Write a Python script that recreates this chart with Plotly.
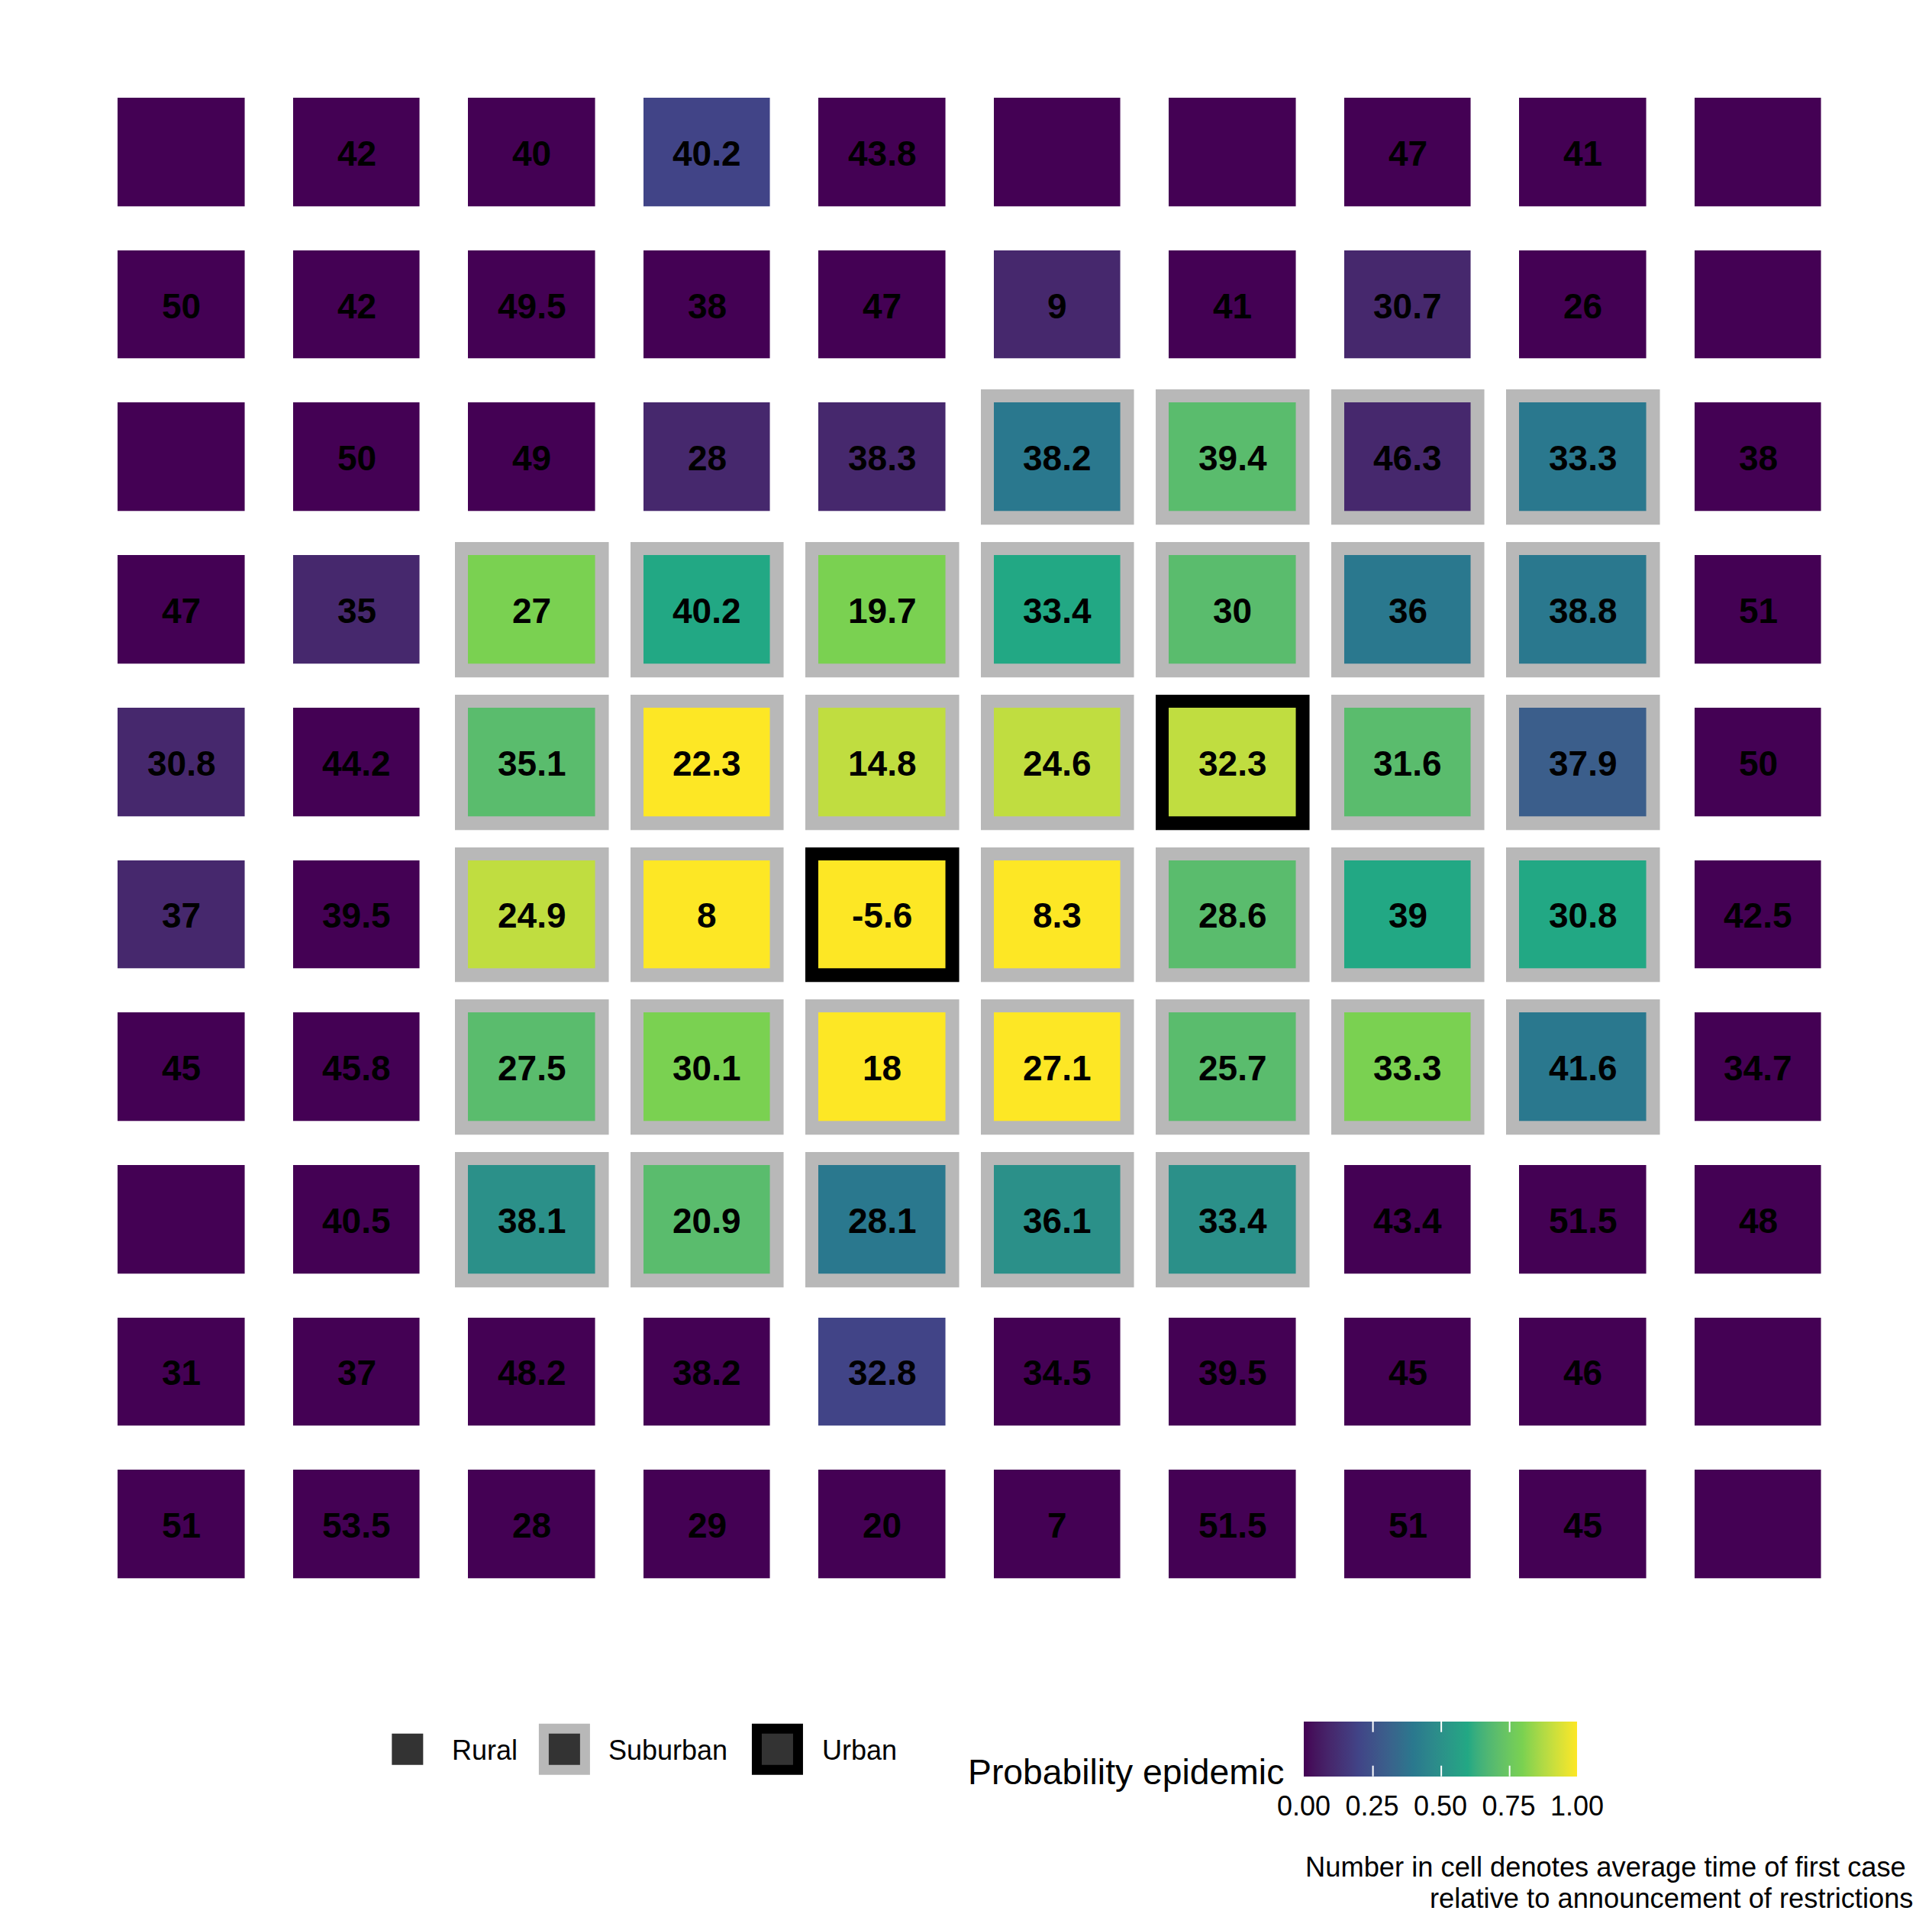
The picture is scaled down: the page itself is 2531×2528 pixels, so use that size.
import plotly.graph_objects as go
import numpy as np

W, H = 2531, 2528
FONT = "Liberation Sans, Arial, sans-serif"

# ---------------- data (rows top -> bottom, columns left -> right) ----------------
col_ids = list(range(1, 11))
row_ids = list(range(1, 11))

# average time of first case relative to announcement (None = no label)
first_case_time = [
    [None, 42, 40, 40.2, 43.8, None, None, 47, 41, None],
    [50, 42, 49.5, 38, 47, 9, 41, 30.7, 26, None],
    [None, 50, 49, 28, 38.3, 38.2, 39.4, 46.3, 33.3, 38],
    [47, 35, 27, 40.2, 19.7, 33.4, 30, 36, 38.8, 51],
    [30.8, 44.2, 35.1, 22.3, 14.8, 24.6, 32.3, 31.6, 37.9, 50],
    [37, 39.5, 24.9, 8, -5.6, 8.3, 28.6, 39, 30.8, 42.5],
    [45, 45.8, 27.5, 30.1, 18, 27.1, 25.7, 33.3, 41.6, 34.7],
    [None, 40.5, 38.1, 20.9, 28.1, 36.1, 33.4, 43.4, 51.5, 48],
    [31, 37, 48.2, 38.2, 32.8, 34.5, 39.5, 45, 46, None],
    [51, 53.5, 28, 29, 20, 7, 51.5, 51, 45, None],
]

# probability of epidemic
prob_epidemic = [
    [0, 0, 0, 0.2, 0, 0, 0, 0, 0, 0],
    [0, 0, 0, 0, 0, 0.1, 0, 0.1, 0, 0],
    [0, 0, 0, 0.1, 0.1, 0.4, 0.7, 0.1, 0.4, 0],
    [0, 0.1, 0.8, 0.6, 0.8, 0.6, 0.7, 0.4, 0.4, 0],
    [0.1, 0, 0.7, 1.0, 0.9, 0.9, 0.9, 0.7, 0.3, 0],
    [0.1, 0, 0.9, 1.0, 1.0, 1.0, 0.7, 0.6, 0.6, 0],
    [0, 0, 0.7, 0.8, 1.0, 1.0, 0.7, 0.8, 0.4, 0],
    [0, 0, 0.5, 0.7, 0.4, 0.5, 0.5, 0, 0, 0],
    [0, 0, 0, 0, 0.2, 0, 0, 0, 0, 0],
    [0, 0, 0, 0, 0, 0, 0, 0, 0, 0],
]

# area type: 0 = Rural, 1 = Suburban, 2 = Urban
area_type = [
    [0, 0, 0, 0, 0, 0, 0, 0, 0, 0],
    [0, 0, 0, 0, 0, 0, 0, 0, 0, 0],
    [0, 0, 0, 0, 0, 1, 1, 1, 1, 0],
    [0, 0, 1, 1, 1, 1, 1, 1, 1, 0],
    [0, 0, 1, 1, 1, 1, 2, 1, 1, 0],
    [0, 0, 1, 1, 2, 1, 1, 1, 1, 0],
    [0, 0, 1, 1, 1, 1, 1, 1, 1, 0],
    [0, 0, 1, 1, 1, 1, 1, 0, 0, 0],
    [0, 0, 0, 0, 0, 0, 0, 0, 0, 0],
    [0, 0, 0, 0, 0, 0, 0, 0, 0, 0],
]
area_names = ["Rural", "Suburban", "Urban"]
colorbar_ticks = [0, 0.25, 0.5, 0.75, 1.0]
colorbar_ticktext = ["0.00", "0.25", "0.50", "0.75", "1.00"]

# ---------------- viridis (ggplot style: 6 colours interpolated in Lab) ----------------
vir6 = ["#440154", "#414487", "#2A788E", "#22A884", "#7AD151", "#FDE725"]


def hex2rgb(h):
    h = h.lstrip("#")
    return np.array([int(h[i:i + 2], 16) for i in (0, 2, 4)], float)


def rgb2lab(rgb):
    c = rgb / 255.0
    c = np.where(c <= 0.04045, c / 12.92, ((c + 0.055) / 1.055) ** 2.4)
    M = np.array([[0.4124564, 0.3575761, 0.1804375],
                  [0.2126729, 0.7151522, 0.0721750],
                  [0.0193339, 0.1191920, 0.9503041]])
    xyz = M @ c
    wp = np.array([0.95047, 1.0, 1.08883])
    t = xyz / wp
    f = np.where(t > (6 / 29) ** 3, np.cbrt(t), t / (3 * (6 / 29) ** 2) + 4 / 29)
    return np.array([116 * f[1] - 16, 500 * (f[0] - f[1]), 200 * (f[1] - f[2])])


def lab2rgb(lab):
    L, a, b = lab
    fy = (L + 16) / 116
    fx = fy + a / 500
    fz = fy - b / 200
    f = np.array([fx, fy, fz])
    t = np.where(f > 6 / 29, f ** 3, 3 * (6 / 29) ** 2 * (f - 4 / 29))
    wp = np.array([0.95047, 1.0, 1.08883])
    xyz = t * wp
    Minv = np.array([[3.2404542, -1.5371385, -0.4985314],
                     [-0.9692660, 1.8760108, 0.0415560],
                     [0.0556434, -0.2040259, 1.0572252]])
    c = Minv @ xyz
    c = np.clip(c, 0, 1)
    c = np.where(c <= 0.0031308, 12.92 * c, 1.055 * c ** (1 / 2.4) - 0.055)
    return np.clip(np.round(c * 255), 0, 255).astype(int)


labs = [rgb2lab(hex2rgb(h)) for h in vir6]
colorscale = []
nstops = 41
for k in range(nstops):
    v = k / (nstops - 1)
    pos = v * 5
    i = min(int(pos), 4)
    fr = pos - i
    lab = labs[i] * (1 - fr) + labs[i + 1] * fr
    r, g, b = lab2rgb(lab)
    colorscale.append([v, f"rgb({r},{g},{b})"])

# ---------------- geometry ----------------
x0px, x1px = 123.25, 2417.75
y0px, y1px = 100.15, 2097.35
ml, mr = x0px, W - x1px
mt, mb = y0px, H - y1px
cell_w = (x1px - x0px) / 10
cell_h = (y1px - y0px) / 10


def px_x(p):
    return (p - x0px) / (x1px - x0px)


def px_y(p):
    return (y1px - p) / (y1px - y0px)


# colourbar geometry (pixels)
cb_left, cb_len, cb_top, cb_thick = 1708.0, 358.0, 2255.0, 72.0

fig = go.Figure()

# border tiles (suburban grey, urban black)
border_z = [[(None if a == 0 else (0 if a == 1 else 1)) for a in row] for row in area_type]
fig.add_trace(go.Heatmap(
    x=col_ids, y=row_ids, z=border_z,
    colorscale=[[0, "#B8B8B8"], [0.5, "#B8B8B8"], [0.5, "#000000"], [1, "#000000"]],
    zmin=0, zmax=1, showscale=False, hoverinfo="skip",
    xgap=cell_w - 201, ygap=cell_h - 177,
))

# fill tiles
fig.add_trace(go.Heatmap(
    x=col_ids, y=row_ids, z=prob_epidemic,
    colorscale=colorscale, zmin=0, zmax=1,
    xgap=cell_w - 166, ygap=cell_h - 142,
    colorbar=dict(
        orientation="h",
        xref="container", yref="container",
        x=(cb_left + cb_len + 15) / W, xanchor="center",
        y=1 - cb_top / H, yanchor="top",
        len=cb_len, lenmode="pixels",
        thickness=cb_thick, thicknessmode="pixels",
        xpad=0, ypad=0, outlinewidth=0, borderwidth=0,
        tickvals=colorbar_ticks, ticktext=colorbar_ticktext,
        ticks="outside", ticklen=8, tickwidth=1, tickcolor="rgba(0,0,0,0)",
        tickfont=dict(size=36, family=FONT, color="black"),
        title=dict(text=""),
    ),
))

annotations = []

# cell labels
for r, row in enumerate(first_case_time):
    for c, v in enumerate(row):
        if v is None:
            continue
        annotations.append(dict(
            text=f"<b>{v:g}</b>", xref="x", yref="y", x=col_ids[c], y=row_ids[r],
            xanchor="center", yanchor="middle", showarrow=False, yshift=-1,
            font=dict(size=46, family=FONT, color="black"),
        ))

shapes = []

# white tick marks on colourbar (top and bottom edges), drawn as arrowless line annotations
for tv in colorbar_ticks[1:-1]:
    xp = cb_left + 1 + cb_len * tv
    for yedge, ay in ((cb_top, 15), (cb_top + cb_thick, -15)):
        annotations.append(dict(
            text=" ", xref="paper", yref="paper", x=px_x(xp), y=px_y(yedge),
            showarrow=True, arrowhead=0, arrowwidth=2, arrowcolor="white",
            ax=0, ay=ay, standoff=0, startstandoff=0, borderpad=0,
            font=dict(size=1),
        ))

# legend keys
key_inner = 41
legend_items = [(534, 0), (739.5, 1), (1018.5, 2)]
label_left = [590.5, 795.5, 1075.5]
key_cy = 2291.5
border_cols = {1: "#B8B8B8", 2: "#000000"}
for (cx, a), lx in zip(legend_items, label_left):
    if a > 0:
        ho = 33.5
        shapes.append(dict(type="rect", xref="paper", yref="paper",
                           x0=px_x(cx - ho), x1=px_x(cx + ho), y0=px_y(key_cy + ho), y1=px_y(key_cy - ho),
                           fillcolor=border_cols[a], line=dict(width=0), layer="above"))
    hi = key_inner / 2
    shapes.append(dict(type="rect", xref="paper", yref="paper",
                       x0=px_x(cx - hi), x1=px_x(cx + hi), y0=px_y(key_cy + hi), y1=px_y(key_cy - hi),
                       fillcolor="#333333", line=dict(width=0), layer="above"))
    annotations.append(dict(text=area_names[a], xref="paper", yref="paper",
                            x=px_x(lx), y=px_y(2292.5), xanchor="left", yanchor="middle",
                            showarrow=False, font=dict(size=36, family=FONT, color="black")))

# colourbar title
annotations.append(dict(text="Probability epidemic", xref="paper", yref="paper",
                        x=px_x(1684), y=px_y(2321), xanchor="right", yanchor="middle",
                        showarrow=False, font=dict(size=46.3, family=FONT, color="black")))

# caption
annotations.append(dict(text="Number in cell denotes average time of first case", xref="paper", yref="paper",
                        x=px_x(2499), y=px_y(2445.8), xanchor="right", yanchor="middle",
                        showarrow=False, font=dict(size=36.3, family=FONT, color="black")))
annotations.append(dict(text="relative to announcement of restrictions", xref="paper", yref="paper",
                        x=px_x(2509), y=px_y(2486.5), xanchor="right", yanchor="middle",
                        showarrow=False, font=dict(size=36.3, family=FONT, color="black")))

fig.update_layout(
    width=W, height=H,
    margin=dict(l=ml, r=mr, t=mt, b=mb, pad=0),
    paper_bgcolor="white", plot_bgcolor="white",
    showlegend=False,
    xaxis=dict(range=[0.5, 10.5], showgrid=False, zeroline=False, showticklabels=False,
               ticks="", showline=False, fixedrange=True),
    yaxis=dict(range=[10.5, 0.5], showgrid=False, zeroline=False, showticklabels=False,
               ticks="", showline=False, fixedrange=True),
    shapes=shapes, annotations=annotations,
    font=dict(family=FONT),
)

fig.write_html("out.html")
